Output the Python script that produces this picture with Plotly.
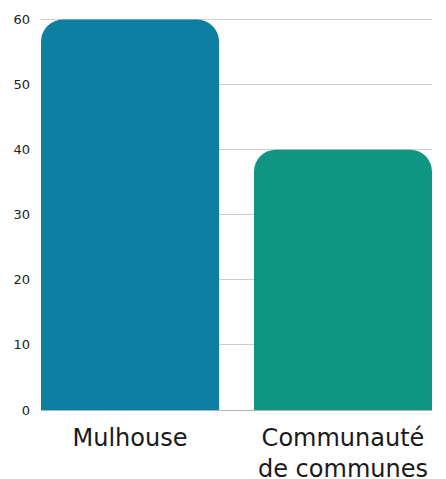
import plotly.graph_objects as go

# Category labels and values
categories = ["Mulhouse", "Communauté<br>de communes"]
values = [60, 40]
bar_colors = ["#0c7fa2", "#0f9583"]
y_ticks = [0, 10, 20, 30, 40, 50, 60]

fig = go.Figure(
    go.Bar(
        x=categories,
        y=values,
        marker=dict(color=bar_colors, line=dict(width=0)),
        width=0.836,
        hoverinfo="skip",
    )
)

fig.update_layout(
    width=446,
    height=479,
    margin=dict(l=41, r=14, t=13, b=69),
    paper_bgcolor="white",
    plot_bgcolor="white",
    barcornerradius=22,
    showlegend=False,
    font=dict(family="DejaVu Sans, sans-serif", color="#1a1a1a"),
)

fig.update_xaxes(
    range=[-0.418, 1.418],
    automargin=False,
    showgrid=False,
    showline=False,
    ticks="",
    ticklabelstandoff=11,
    tickfont=dict(size=24, color="#1a1a1a"),
)

fig.update_yaxes(
    range=[0, 61],
    automargin=False,
    tickvals=y_ticks,
    showgrid=True,
    gridcolor="#cccccc",
    gridwidth=1,
    zeroline=True,
    zerolinecolor="#b3b3b3",
    zerolinewidth=1,
    showline=False,
    ticks="",
    ticklabelstandoff=10,
    tickfont=dict(size=13, color="#222222"),
)

fig.write_html("out.html")
